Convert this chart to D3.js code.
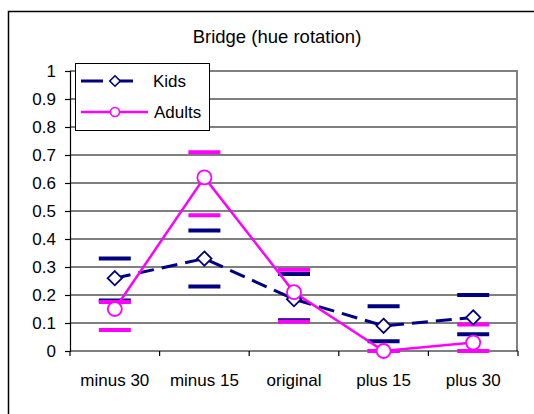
<!DOCTYPE html>
<html>
<head>
<meta charset="utf-8">
<script src="https://cdn.jsdelivr.net/npm/d3@7"></script>
<style>
  body { margin: 0; background: #fff; }
  text { font-family: "Liberation Sans", Arial, sans-serif; fill: #000; }
</style>
</head>
<body>
<script>
// chart data
const categories = ['minus 30', 'minus 15', 'original', 'plus 15', 'plus 30'];
const kids = [0.26, 0.33, 0.185, 0.09, 0.12];
const kidsHigh = [0.33, 0.43, 0.275, 0.16, 0.20];
const kidsLow = [0.18, 0.23, 0.11, 0.035, 0.06];
const adults = [0.15, 0.62, 0.21, 0.0, 0.03];
const adultsHigh = [0.175, 0.71, 0.29, 0.0, 0.095];
const adultsLow = [0.075, 0.485, 0.105, 0.0, 0.0];
const yTicks = [0, 0.1, 0.2, 0.3, 0.4, 0.5, 0.6, 0.7, 0.8, 0.9, 1];

const w = 534, h = 414;
const navy = '#000080', pink = '#ff00ff';

const svg = d3.select('body').append('svg')
  .attr('width', w)
  .attr('height', h);

// outer frame (runs off the right / bottom edge)
svg.append('path')
  .attr('d', `M8.5,${h + 5}V11.5H${w + 5}`)
  .attr('fill', 'none')
  .attr('stroke', '#000')
  .attr('stroke-width', 1.5);

const x = d3.scaleBand().domain(categories).range([70, 518]);
const y = d3.scaleLinear().domain([0, 1]).range([351, 71]);
const cx = (d) => x(d) + x.bandwidth() / 2;

// title
svg.append('text')
  .attr('x', 277)
  .attr('y', 43)
  .attr('text-anchor', 'middle')
  .style('font-size', '18.5px')
  .text('Bridge (hue rotation)');

// gridlines
svg.append('g')
  .selectAll('line')
  .data(yTicks.filter(t => t > 0 && t < 1))
  .enter().append('line')
    .attr('x1', 70).attr('x2', 518)
    .attr('y1', d => y(d)).attr('y2', d => y(d))
    .attr('stroke', '#000').attr('stroke-width', 1);

// plot border top / right
svg.append('path')
  .attr('d', `M70,${y(1)}H517V${y(0)}`)
  .attr('fill', 'none')
  .attr('stroke', '#808080')
  .attr('stroke-width', 2);

// y axis
const yAxis = svg.append('g')
  .attr('transform', 'translate(70,0)')
  .call(d3.axisLeft(y).tickValues(yTicks).tickSize(5).tickPadding(9).tickFormat(d3.format('~g')));
yAxis.selectAll('text').style('font-size', '17px');
yAxis.selectAll('line').attr('stroke-width', 1.2);
yAxis.select('.domain').attr('stroke', '#000').attr('stroke-width', 1.2);

// x axis
const xAxis = svg.append('g')
  .attr('transform', `translate(0,${y(0)})`)
  .call(d3.axisBottom(x).tickSize(0).tickPadding(23));
xAxis.select('.domain').remove();
xAxis.selectAll('text').style('font-size', '17px');

svg.append('line')
  .attr('x1', 70).attr('x2', 518)
  .attr('y1', y(0)).attr('y2', y(0))
  .attr('stroke', '#000').attr('stroke-width', 1.2);

// category boundary ticks
svg.append('g')
  .selectAll('line')
  .data(categories.concat(['end']))
  .enter().append('line')
    .attr('x1', (d, i) => 70 + i * x.bandwidth())
    .attr('x2', (d, i) => 70 + i * x.bandwidth())
    .attr('y1', y(0)).attr('y2', y(0) + 5)
    .attr('stroke', '#000').attr('stroke-width', 1.2);

// error dashes
const dash = (vals, color) => {
  svg.append('g')
    .selectAll('line')
    .data(vals.map((v, i) => ({ v, c: categories[i] })))
    .enter().append('line')
      .attr('x1', d => cx(d.c) - 16).attr('x2', d => cx(d.c) + 16)
      .attr('y1', d => y(d.v)).attr('y2', d => y(d.v))
      .attr('stroke', color).attr('stroke-width', 4);
};
dash(kidsHigh, navy);
dash(kidsLow, navy);
dash(adultsHigh, pink);
dash(adultsLow, pink);

const line = d3.line().x((d, i) => cx(categories[i])).y(d => y(d));

// kids line
svg.append('path')
  .datum(kids)
  .attr('d', line)
  .attr('fill', 'none')
  .attr('stroke', navy)
  .attr('stroke-width', 3)
  .attr('stroke-dasharray', '16,8');

// adults line
svg.append('path')
  .datum(adults)
  .attr('d', line)
  .attr('fill', 'none')
  .attr('stroke', pink)
  .attr('stroke-width', 2.5);

const diamond = d3.symbol().type(d3.symbolDiamond2).size(130);

svg.append('g')
  .selectAll('path')
  .data(kids)
  .enter().append('path')
    .attr('d', diamond)
    .attr('transform', (d, i) => `translate(${cx(categories[i])},${y(d)})`)
    .attr('fill', '#fff').attr('stroke', navy).attr('stroke-width', 1.8);

svg.append('g')
  .selectAll('circle')
  .data(adults)
  .enter().append('circle')
    .attr('cx', (d, i) => cx(categories[i]))
    .attr('cy', d => y(d))
    .attr('r', 7)
    .attr('fill', '#fff').attr('stroke', pink).attr('stroke-width', 1.8);

// legend
const legend = svg.append('g');
legend.append('rect')
  .attr('x', 75.5).attr('y', 63.5)
  .attr('width', 134).attr('height', 67)
  .attr('fill', '#fff').attr('stroke', '#000').attr('stroke-width', 1);

const items = [
  { name: 'Kids', color: navy, dash: '22,8', y: 81 },
  { name: 'Adults', color: pink, dash: null, y: 112 },
];
items.forEach(it => {
  legend.append('line')
    .attr('x1', 81).attr('x2', it.dash ? 140 : 148)
    .attr('y1', it.y).attr('y2', it.y)
    .attr('stroke', it.color)
    .attr('stroke-width', it.dash ? 3 : 2.5)
    .attr('stroke-dasharray', it.dash);
  if (it.dash) {
    legend.append('path')
      .attr('d', d3.symbol().type(d3.symbolDiamond2).size(70))
      .attr('transform', `translate(115,${it.y})`)
      .attr('fill', '#fff').attr('stroke', it.color).attr('stroke-width', 1.6);
  } else {
    legend.append('circle')
      .attr('cx', 115).attr('cy', it.y).attr('r', 4.5)
      .attr('fill', '#fff').attr('stroke', it.color).attr('stroke-width', 1.6);
  }
  legend.append('text')
    .attr('x', it.dash ? 153 : 154).attr('y', it.y + 6)
    .style('font-size', '17px')
    .text(it.name);
});
</script>
</body>
</html>
